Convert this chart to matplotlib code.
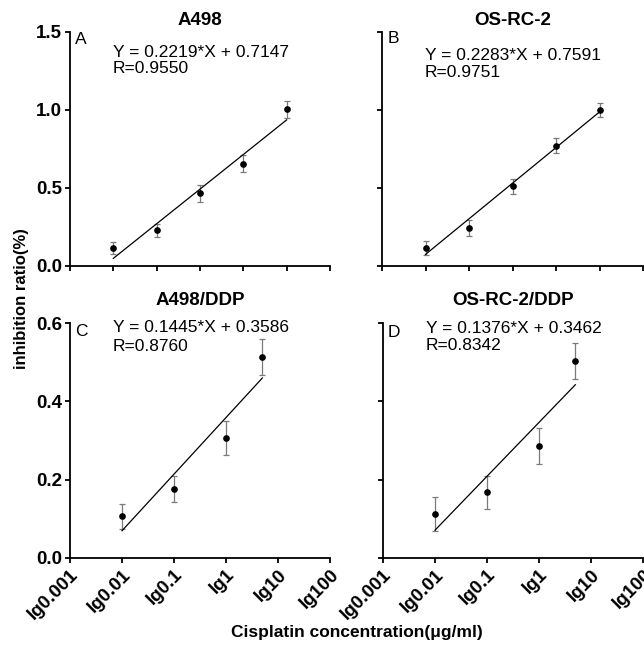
import numpy as np
import matplotlib
matplotlib.use('Agg')
import matplotlib.pyplot as plt

plt.rcParams['font.family'] = ['Liberation Sans', 'DejaVu Sans']

# ---------------- data ----------------
titles = ['A498', 'OS-RC-2', 'A498/DDP', 'OS-RC-2/DDP']
panel_labels = ['A', 'B', 'C', 'D']
equations = ['Y = 0.2219*X + 0.7147', 'Y = 0.2283*X + 0.7591',
             'Y = 0.1445*X + 0.3586', 'Y = 0.1376*X + 0.3462']
r_values = ['R=0.9550', 'R=0.9751', 'R=0.8760', 'R=0.8342']
slopes = [0.2219, 0.2283, 0.1445, 0.1376]
intercepts = [0.7147, 0.7591, 0.3586, 0.3462]

# lg(concentration)
x_top = [-3, -2, -1, 0, 1]
x_bottom = [-2, -1, 0, 0.699]

y_A = [0.116, 0.230, 0.466, 0.655, 1.005]
e_A = [0.040, 0.042, 0.053, 0.054, 0.055]
y_B = [0.117, 0.243, 0.510, 0.772, 1.000]
e_B = [0.046, 0.050, 0.048, 0.050, 0.045]
y_C = [0.107, 0.177, 0.307, 0.513]
e_C = [0.032, 0.033, 0.044, 0.046]
y_D = [0.112, 0.168, 0.286, 0.503]
e_D = [0.044, 0.042, 0.045, 0.046]

top_xticks = [-4, -3, -2, -1, 0, 1, 2]
bottom_xticks = [-3, -2, -1, 0, 1, 2]
bottom_xticklabels = ['lg0.001', 'lg0.01', 'lg0.1', 'lg1', 'lg10', 'lg100']
top_yticks = [0.0, 0.5, 1.0, 1.5]
bottom_yticks = [0.0, 0.2, 0.4, 0.6]

# ---------------- figure ----------------
W, H = 644, 646
fig = plt.figure(figsize=(W / 100, H / 100), dpi=100)


def rect(l, t, r, b):
    return [l / W, 1 - b / H, (r - l) / W, (b - t) / H]


rects = [rect(70, 32, 330, 266), rect(382, 32, 643, 266),
         rect(70, 323, 330, 558), rect(383, 323, 643, 558)]

xs = [x_top, x_top, x_bottom, x_bottom]
ys = [y_A, y_B, y_C, y_D]
es = [e_A, e_B, e_C, e_D]
# text positions in axes fraction (eq line, R line, panel label)
eq_y = [0.912, 0.900, 0.980, 0.978]
r_y = [0.842, 0.828, 0.900, 0.904]
lab_y = [0.970, 0.972, 0.962, 0.960]
title_pad = [5, 5, 13, 13]

for i in range(4):
    ax = fig.add_axes(rects[i])
    top = i < 2
    x = np.array(xs[i], dtype=float)
    y = np.array(ys[i])
    ax.errorbar(x, y, yerr=es[i], fmt='none', ecolor='#7a7a7a',
                elinewidth=0.9, capsize=2.0, capthick=0.9, zorder=2)
    ax.plot(x, y, 'o', color='black', markersize=3.8, zorder=3)
    xl = np.array([x[0], x[-1]])
    ax.plot(xl, slopes[i] * xl + intercepts[i], color='black', lw=0.9, zorder=2)

    for s in ['top', 'right']:
        ax.spines[s].set_visible(False)
    for s in ['left', 'bottom']:
        ax.spines[s].set_linewidth(1.3)
    ax.tick_params(direction='out', length=3.8, width=1.3, labelsize=13.5, pad=2)

    if top:
        ax.set_xlim(-4, 2)
        ax.set_ylim(0, 1.5)
        ax.set_xticks(top_xticks)
        ax.set_xticklabels([])
        ax.set_yticks(top_yticks)
    else:
        ax.set_xlim(-3, 2)
        ax.set_ylim(0, 0.6)
        ax.set_xticks(bottom_xticks)
        ax.set_xticklabels(bottom_xticklabels, rotation=45, ha='right',
                           va='top', rotation_mode='anchor', fontweight='bold')
        ax.set_yticks(bottom_yticks)
    if i in (0, 2):
        ax.set_yticklabels(['%.1f' % v for v in ax.get_yticks()], fontweight='bold')
    else:
        ax.set_yticklabels([])

    ax.set_title(titles[i], fontsize=13.5, fontweight='bold', pad=title_pad[i])
    ax.text(0.042, lab_y[i], panel_labels[i], transform=ax.transAxes,
            fontsize=12.5, ha='center', va='center')
    ax.text(0.165, eq_y[i], equations[i], transform=ax.transAxes,
            fontsize=12.5, ha='left', va='center')
    ax.text(0.165, r_y[i], r_values[i], transform=ax.transAxes,
            fontsize=12.5, ha='left', va='center')

fig.text(22 / W, 1 - 299 / H, 'inhibition ratio(%)', rotation=90,
         ha='center', va='center', fontsize=12, fontweight='bold')
fig.text(357 / W, 1 - 633 / H, 'Cisplatin concentration(\u03bcg/ml)',
         ha='center', va='center', fontsize=12.5, fontweight='bold')

fig.savefig('out.png', dpi=100)
